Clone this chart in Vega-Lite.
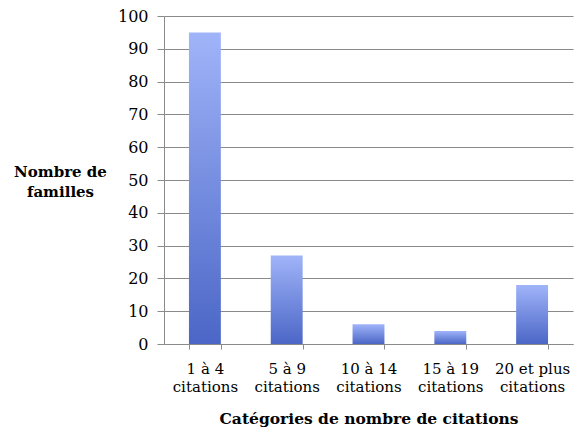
{
  "$schema": "https://vega.github.io/schema/vega-lite/v6.json",
  "width": 409,
  "height": 328,
  "autosize": "none",
  "padding": {"left": 164, "top": 16, "right": 8, "bottom": 85},
  "background": "white",
  "data": {
    "values": [
      {"categorie": "1 à 4 citations", "familles": 95},
      {"categorie": "5 à 9 citations", "familles": 27},
      {"categorie": "10 à 14 citations", "familles": 6},
      {"categorie": "15 à 19 citations", "familles": 4},
      {"categorie": "20 et plus citations", "familles": 18}
    ]
  },
  "config": {
    "view": {"stroke": null},
    "font": "DejaVu Serif"
  },
  "mark": {
    "type": "bar",
    "color": {
      "gradient": "linear",
      "x1": 0, "y1": 0, "x2": 0, "y2": 1,
      "stops": [
        {"offset": 0, "color": "#a0b4f9"},
        {"offset": 1, "color": "#4b66c6"}
      ]
    }
  },
  "encoding": {
    "x": {
      "field": "categorie",
      "type": "nominal",
      "sort": null,
      "scale": {"paddingInner": 0.61, "paddingOuter": 0.305},
      "axis": {
        "title": "Catégories de nombre de citations",
        "titleFont": "DejaVu Serif",
        "titleFontSize": 15.5,
        "titleFontWeight": "bold",
        "titleColor": "#000",
        "titleBaseline": "alphabetic",
        "titleY": 79,
        "labelExpr": "datum.label ? [replace(datum.label, ' citations', ''), 'citations'] : ''",
        "labelAngle": 0,
        "labelAlign": "center",
        "labelFlush": false,
        "labelOverlap": false,
        "labelBound": false,
        "labelFont": "DejaVu Serif",
        "labelFontSize": 15,
        "labelColor": "#000",
        "labelBaseline": "alphabetic",
        "labelPadding": 24,
        "labelLineHeight": 18,
        "domainColor": "#8a8a8a",
        "tickColor": "#8a8a8a",
        "tickSize": 5,
        "tickBand": "extent",
        "grid": false
      }
    },
    "y": {
      "field": "familles",
      "type": "quantitative",
      "scale": {"domain": [0, 100], "nice": false},
      "axis": {
        "values": [0, 10, 20, 30, 40, 50, 60, 70, 80, 90, 100],
        "title": ["Nombre de", "familles"],
        "titleAngle": 0,
        "titleAlign": "center",
        "titleBaseline": "alphabetic",
        "titleX": -104,
        "titleY": 160,
        "titleLineHeight": 20,
        "titleFont": "DejaVu Serif",
        "titleFontSize": 15,
        "titleFontWeight": "bold",
        "titleColor": "#000",
        "labelFont": "DejaVu Serif",
        "labelFontSize": 16,
        "labelColor": "#000",
        "labelPadding": 9,
        "tickSize": 7,
        "tickColor": "#8a8a8a",
        "domainColor": "#8a8a8a",
        "gridColor": "#8a8a8a",
        "gridWidth": 1
      }
    }
  }
}
